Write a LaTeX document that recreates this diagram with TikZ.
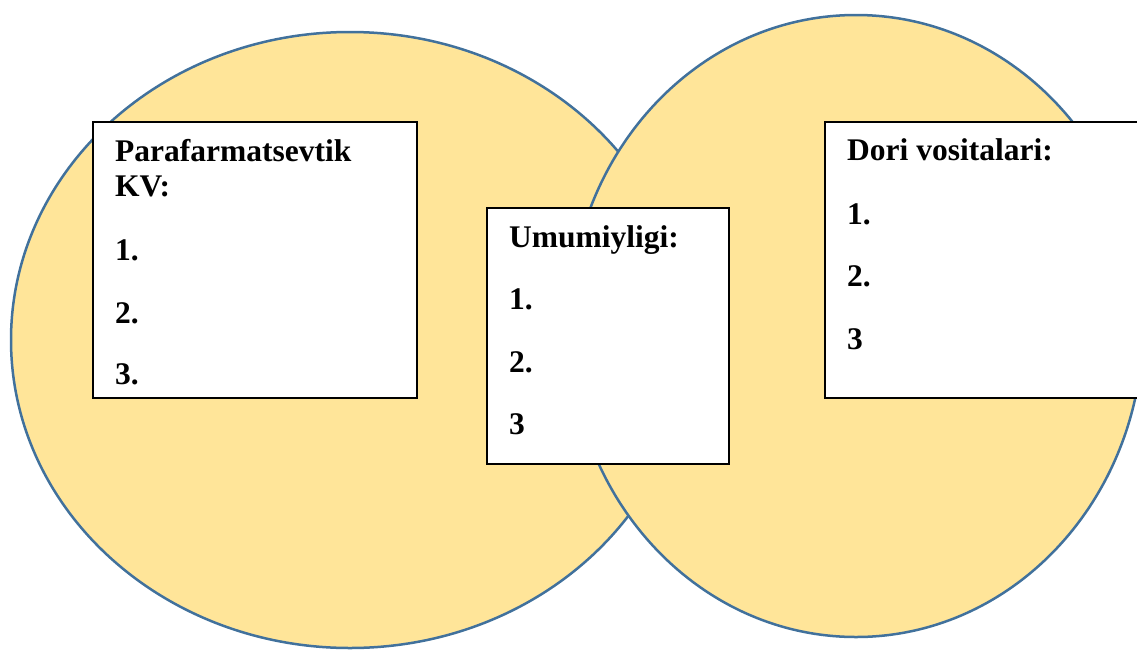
\documentclass[tikz,border=0pt]{standalone}
\usepackage{fontspec}
\setmainfont{Liberation Serif}
\usetikzlibrary{positioning, shapes.geometric}

\definecolor{setfill}{HTML}{FFE599}
\definecolor{setline}{HTML}{41719C}

\tikzset{
 vennset/.style={ellipse, draw=setline, fill=setfill, line width=2.5pt, inner sep=0pt},
 listbox/.style={draw=black, fill=white, line width=2pt, inner sep=0pt},
 entry/.style={anchor=base west, inner sep=0pt, font=\fontsize{31.5}{35}\selectfont\bfseries}
}

\begin{document}
\begin{tikzpicture}[x=1pt, y=-1pt]
 \useasboundingbox (0,0) rectangle (1137,651);
 \clip (0,0) rectangle (1137,651);

 % the two sets
 \node[vennset, minimum width=678pt, minimum height=616pt] (kvset) at (350,340) {};
 \node[vennset, minimum width=574pt, minimum height=622pt] (dvset) at (856,326) {};

 % the three boxes
 \node[listbox, minimum width=324pt, minimum height=276pt] (kvbox) at (255,260) {};
 \node[listbox, minimum width=242pt, minimum height=256pt] (umbox) at (608,336) {};
 \node[listbox, minimum width=345pt, minimum height=276pt] (dvbox) at (997,260) {};

 \node[entry] (kvtitle) at (115,161) {Parafarmatsevtik};
 \node[entry] (kvtitleb) at (115,196) {KV:};
 \foreach \i/\y/\num in {1/260/1., 2/323/2., 3/384/3.} {
  \node[entry] (kvitem\i) at (115,\y) {\num};
 }

 \node[entry] (umtitle) at (509,247) {Umumiyligi:};
 \foreach \i/\y/\num in {1/309/1., 2/372/2., 3/434/3} {
  \node[entry] (umitem\i) at (509,\y) {\num};
 }

 \node[entry] (dvtitle) at (847,160) {Dori vositalari:};
 \foreach \i/\y/\num in {1/224/1., 2/286/2., 3/349/3} {
  \node[entry] (dvitem\i) at (847,\y) {\num};
 }
\end{tikzpicture}
\end{document}
